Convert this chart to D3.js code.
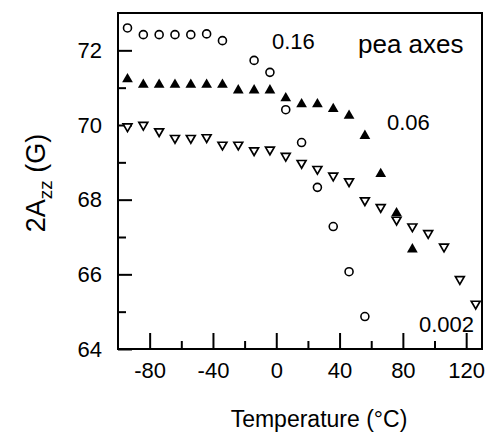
<!DOCTYPE html>
<html>
<head>
<meta charset="utf-8">
<script src="https://cdn.jsdelivr.net/npm/d3@7"></script>
<style>
body{margin:0;background:#fff}
text{font-family:"Liberation Sans",Arial,Helvetica,sans-serif;fill:#000}
</style>
</head>
<body>
<div id="chart"></div>
<script>
// 0.16 spin label (open circles)
var temp_016 = [-94,-84,-74,-64,-54,-44,-34,-14,-4,6,16,26,36,46,56]
var azz_016  = [72.6,72.42,72.42,72.42,72.42,72.44,72.26,71.73,71.41,70.41,69.53,68.33,67.28,66.07,64.87]

// 0.06 (filled triangles)
var temp_006 = [-94,-84,-74,-64,-54,-44,-34,-24,-14,-4,6,16,26,36,46,56,66,76,86]
var azz_006  = [71.23,71.08,71.08,71.08,71.08,71.08,71.08,70.93,70.93,70.93,70.72,70.56,70.56,70.43,70.25,69.71,68.69,67.64,66.67]

// 0.002 (open down triangles)
var temp_0002 = [-94,-84,-74,-64,-54,-44,-34,-24,-14,-4,6,16,26,36,46,56,66,76,86,96,106,116,126]
var azz_0002  = [69.96,70.0,69.83,69.65,69.65,69.67,69.47,69.47,69.32,69.34,69.17,68.98,68.82,68.64,68.49,67.98,67.8,67.46,67.28,67.1,66.74,65.87,65.21]

var x_major = [-80,-40,0,40,80,120]
var x_minor = [-60,-20,20,60,100]
var y_major = [64,66,68,70,72]
var y_minor = [65,67,69,71]

var W=491, H=440
var m_left=118, m_right=482, m_top=13, m_bottom=349

var svg = d3.select("#chart").append("svg")
    .attr("width",W).attr("height",H)

var x = d3.scaleLinear().domain([-100,130]).range([m_left,m_right])
var y = d3.scaleLinear().domain([64,73]).range([m_bottom,m_top])

var fmt = function(d){ return String(d) } // plain hyphen minus like the original

// axes, ticks pointing in
var xa = svg.append("g").attr("transform","translate(0,"+m_bottom+")")
    .call(d3.axisBottom(x).tickValues(x_major).tickSize(-16).tickPadding(13).tickFormat(fmt))
xa.selectAll("text").style("font-size","22px")
svg.append("g").attr("transform","translate(0,"+m_bottom+")")
    .call(d3.axisBottom(x).tickValues(x_minor).tickSize(-8).tickFormat(""))

var ya = svg.append("g").attr("transform","translate("+m_left+",0)")
    .call(d3.axisLeft(y).tickValues(y_major).tickSize(-14).tickPadding(16).tickFormat(fmt))
ya.selectAll("text").style("font-size","22px")
svg.append("g").attr("transform","translate("+m_left+",0)")
    .call(d3.axisLeft(y).tickValues(y_minor).tickSize(-8).tickFormat(""))

svg.selectAll(".domain").remove()
svg.selectAll(".tick line").attr("stroke","#000").attr("stroke-width",2)

svg.append("rect")
    .attr("x",m_left).attr("y",m_top)
    .attr("width",m_right-m_left).attr("height",m_bottom-m_top)
    .attr("fill","none").attr("stroke","#000").attr("stroke-width",2)

// points
svg.append("g").selectAll("circle")
    .data(d3.zip(temp_016,azz_016))
    .join("circle")
    .attr("cx",d=>x(d[0])).attr("cy",d=>y(d[1]))
    .attr("r",4)
    .attr("fill","none").attr("stroke","#000").attr("stroke-width",1.6)

var tri = d3.symbol().type(d3.symbolTriangle)

svg.append("g").selectAll("path")
    .data(d3.zip(temp_006,azz_006))
    .join("path")
    .attr("d",tri.size(50))
    .attr("transform",d=>"translate("+x(d[0])+","+y(d[1])+")")
    .attr("fill","#000")

svg.append("g").selectAll("path")
    .data(d3.zip(temp_0002,azz_0002))
    .join("path")
    .attr("d",tri.size(34))
    .attr("transform",d=>"translate("+x(d[0])+","+y(d[1])+") rotate(180)")
    .attr("fill","#fff").attr("stroke","#000").attr("stroke-width",1.7)

// annotations
svg.append("text").attr("x",272).attr("y",49).style("font-size","22px").text("0.16")
svg.append("text").attr("x",387).attr("y",130).style("font-size","22px").text("0.06")
svg.append("text").attr("x",419).attr("y",332).style("font-size","22px").text("0.002")
svg.append("text").attr("x",358).attr("y",53).style("font-size","26px").text("pea axes")

// axis titles
svg.append("text")
    .attr("x",319).attr("y",427)
    .attr("text-anchor","middle")
    .style("font-size","23px")
    .text("Temperature (\u00B0C)")

var yt = svg.append("text")
    .attr("transform","translate(45,183) rotate(-90)")
    .attr("text-anchor","middle")
    .style("font-size","27px")
yt.append("tspan").text("2A")
yt.append("tspan").attr("dy",7).style("font-size","19px").text("zz")
yt.append("tspan").attr("dy",-7).text(" (G)")
</script>
</body>
</html>
